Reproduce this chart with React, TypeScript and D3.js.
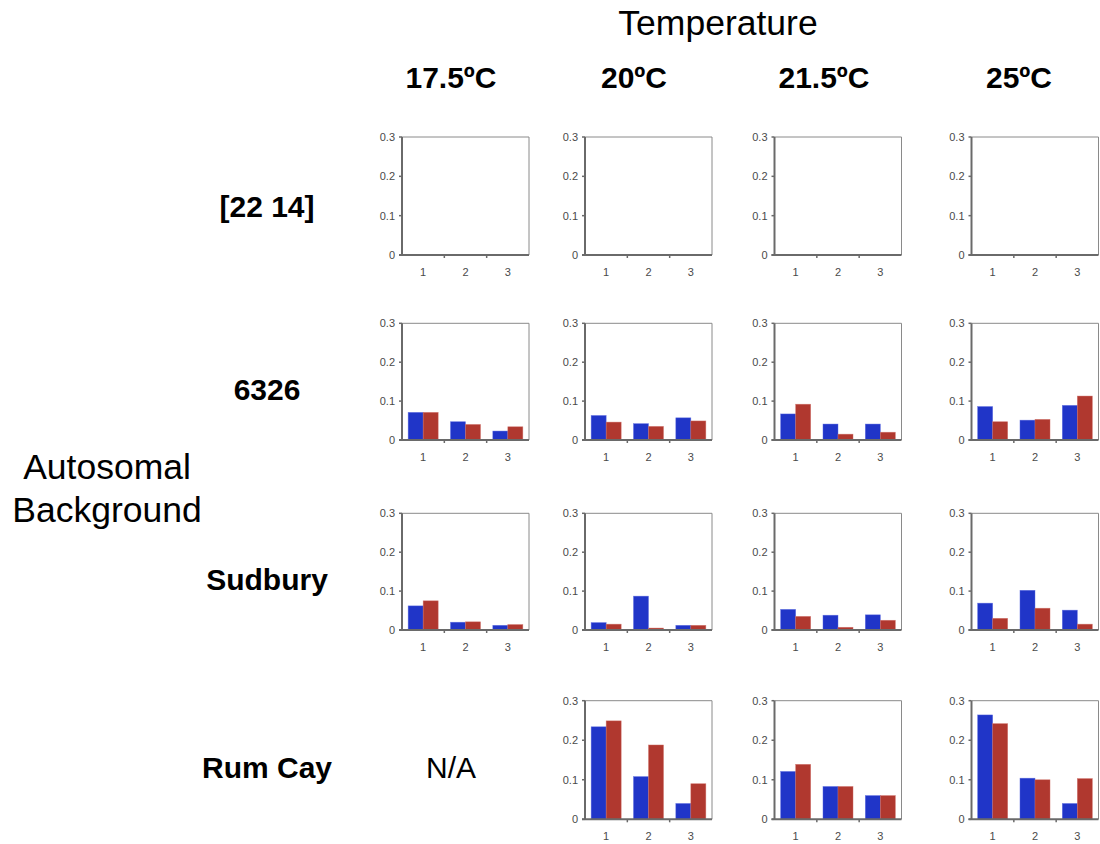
import React from "react";
import * as d3 from "d3";

// ---- data ----
const categories = ["1", "2", "3"];
const temperatures = ["17.5ºC", "20ºC", "21.5ºC", "25ºC"];
const backgrounds = ["[22 14]", "6326", "Sudbury", "Rum Cay"];
const yTicks = [0, 0.1, 0.2, 0.3];
const seriesNames = ["blue", "red"];

// per background: one entry per temperature (null = N/A, [] = empty panel)
const blue2214: (number[] | null)[] = [[], [], [], []];
const red2214: (number[] | null)[] = [[], [], [], []];
const blue6326 = [[0.071, 0.047, 0.023], [0.063, 0.042, 0.057], [0.067, 0.041, 0.041], [0.086, 0.051, 0.089]];
const red6326 = [[0.071, 0.040, 0.034], [0.046, 0.035, 0.049], [0.092, 0.015, 0.020], [0.047, 0.053, 0.113]];
const blueSudbury = [[0.062, 0.020, 0.012], [0.019, 0.087, 0.012], [0.053, 0.038, 0.039], [0.069, 0.102, 0.051]];
const redSudbury = [[0.075, 0.021, 0.014], [0.015, 0.005, 0.012], [0.035, 0.007, 0.025], [0.030, 0.056, 0.015]];
const blueRumCay = [null, [0.234, 0.108, 0.040], [0.121, 0.083, 0.060], [0.264, 0.104, 0.040]];
const redRumCay = [null, [0.249, 0.188, 0.090], [0.139, 0.083, 0.060], [0.242, 0.100, 0.103]];

const blueByRow = [blue2214, blue6326, blueSudbury, blueRumCay];
const redByRow = [red2214, red6326, redSudbury, redRumCay];

// ---- layout ----
const W = 1100;
const H = 844;
const colLeft = [402, 585, 774.5, 971.5];
const panelW = 127;
const rowTop = [137, 323.3, 513.3, 700.7];
const rowBottom = [255, 440, 630, 819.3];
const rowLabelY = [217, 400, 590, 778];
const colTitleCenter = [451, 634, 824, 1019];

const FONT = "Liberation Sans, Arial, Helvetica, sans-serif";
const BLUE = "#2035c8";
const RED = "#b0382f";
const AXIS = "#6a6a6a";
const TICKTXT = "#4a4a4a";

function Panel({ row, col }: { row: number; col: number }) {
  const left = colLeft[col];
  const right = left + panelW;
  const top = rowTop[row];
  const bottom = rowBottom[row];
  const y = d3.scaleLinear().domain([0, 0.3]).range([bottom, top]);
  const x = d3.scaleBand<string>().domain(categories).range([left, right]).padding(0);
  const inner = d3
    .scaleBand<string>()
    .domain(seriesNames)
    .range([0, x.bandwidth()])
    .paddingInner(0)
    .paddingOuter(0.41);
  const blue = blueByRow[row][col] || [];
  const red = redByRow[row][col] || [];
  const boundaries = categories.map((c) => (x(c) as number)).concat([right]);
  return (
    <g>
      <line x1={left} x2={right} y1={top} y2={top} stroke="#8a8a8a" strokeWidth={1} />
      <line x1={right} x2={right} y1={top} y2={bottom} stroke="#8a8a8a" strokeWidth={1} />
      {categories.map((c, i) => {
        const vals = [blue[i], red[i]];
        return seriesNames.map((s, k) => {
          const v = vals[k];
          if (v === undefined || v === null) return null;
          const bx = (x(c) as number) + (inner(s) as number);
          return (
            <rect
              key={c + s}
              x={bx}
              y={y(v)}
              width={inner.bandwidth()}
              height={y(0) - y(v)}
              fill={k === 0 ? BLUE : RED}
              stroke={k === 0 ? "#5a6ae0" : "#d07068"}
              strokeWidth={0.6}
              strokeOpacity={0.7}
            />
          );
        });
      })}
      <line x1={left} x2={left} y1={top} y2={bottom} stroke={AXIS} strokeWidth={2} />
      {yTicks.map((t) => (
        <g key={t}>
          <line x1={left - 3} x2={left} y1={y(t)} y2={y(t)} stroke={AXIS} strokeWidth={1.5} />
          <text
            x={left - 7}
            y={y(t)}
            dy="0.35em"
            textAnchor="end"
            fontSize={11}
            fontFamily={FONT}
            fill={TICKTXT}
          >
            {d3.format("~g")(t)}
          </text>
        </g>
      ))}
      <line x1={left - 3} x2={right} y1={bottom} y2={bottom} stroke={AXIS} strokeWidth={2} />
      {boundaries.slice(1, 3).map((bx, i) => (
        <line key={i} x1={bx} x2={bx} y1={bottom} y2={bottom + 3} stroke={AXIS} strokeWidth={1.5} />
      ))}
      {categories.map((c) => (
        <text
          key={c}
          x={(x(c) as number) + x.bandwidth() / 2}
          y={bottom + 21}
          textAnchor="middle"
          fontSize={11}
          fontFamily={FONT}
          fill={TICKTXT}
        >
          {c}
        </text>
      ))}
    </g>
  );
}

export default function App() {
  return (
    <div style={{ position: "absolute", left: 0, top: 0 }}>
      <svg width={W} height={H} style={{ display: "block", background: "#fff" }}>
        <rect width={W} height={H} fill="#fff" />
        <text x={718} y={35} textAnchor="middle" fontSize={35.5} fontFamily={FONT} fill="#000">
          Temperature
        </text>
        {temperatures.map((t, i) => (
          <text
            key={t}
            x={colTitleCenter[i]}
            y={88}
            textAnchor="middle"
            fontSize={30}
            fontWeight="bold"
            fontFamily={FONT}
            fill="#000"
          >
            {t}
          </text>
        ))}
        {backgrounds.map((b, r) => (
          <text
            key={b}
            x={267}
            y={rowLabelY[r]}
            textAnchor="middle"
            fontSize={30}
            fontWeight="bold"
            fontFamily={FONT}
            fill="#000"
          >
            {b}
          </text>
        ))}
        <text x={107} y={479} textAnchor="middle" fontSize={35.5} fontFamily={FONT} fill="#000">
          Autosomal
        </text>
        <text x={107} y={522} textAnchor="middle" fontSize={35.5} fontFamily={FONT} fill="#000">
          Background
        </text>
        {backgrounds.map((b, r) =>
          temperatures.map((t, c) => {
            const v = blueByRow[r][c];
            if (v === null) {
              return (
                <text
                  key={b + t}
                  x={451}
                  y={rowLabelY[r]}
                  textAnchor="middle"
                  fontSize={30}
                  fontFamily={FONT}
                  fill="#000"
                >
                  N/A
                </text>
              );
            }
            return <Panel key={b + t} row={r} col={c} />;
          })
        )}
      </svg>
    </div>
  );
}
